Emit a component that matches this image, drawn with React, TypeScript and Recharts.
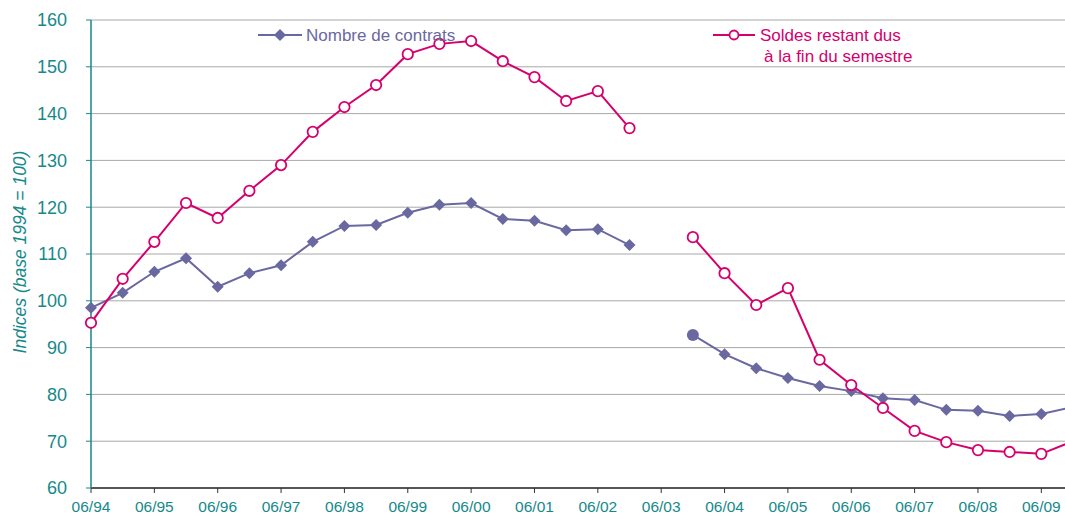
import React from 'react';
import { LineChart, Line, CartesianGrid, XAxis, YAxis, Label } from 'recharts';

const periods = [
  '06/94', '12/94', '06/95', '12/95', '06/96', '12/96', '06/97', '12/97',
  '06/98', '12/98', '06/99', '12/99', '06/00', '12/00', '06/01', '12/01',
  '06/02', '12/02', '06/03', '12/03', '06/04', '12/04', '06/05', '12/05',
  '06/06', '12/06', '06/07', '12/07', '06/08', '12/08', '06/09', '12/09',
];

const nombreContrats = [
  98.5, 101.7, 106.2, 109.1, 103.0, 105.9, 107.6, 112.6,
  116.0, 116.2, 118.8, 120.5, 120.9, 117.5, 117.1, 115.1,
  115.3, 111.9, null, 92.7, 88.6, 85.6, 83.5, 81.8,
  80.7, 79.2, 78.8, 76.7, 76.5, 75.4, 75.8, 77.3,
];

const soldesRestants = [
  95.3, 104.7, 112.6, 120.9, 117.7, 123.5, 129.0, 136.1,
  141.4, 146.1, 152.7, 154.9, 155.5, 151.2, 147.8, 142.7,
  144.8, 136.9, null, 113.6, 105.9, 99.1, 102.7, 87.4,
  82.0, 77.1, 72.2, 69.8, 68.1, 67.7, 67.3, 70.0,
];

const yTicks = [60, 70, 80, 90, 100, 110, 120, 130, 140, 150, 160];

const PURPLE = '#6a68a0';
const RED = '#d5006d';
const TEAL = '#16898a';
const FONT = '"Liberation Sans", Arial, sans-serif';

const data = periods.map((p, i) => ({
  periode: p,
  contrats: nombreContrats[i],
  soldes: soldesRestants[i],
}));

// first point after the 06/03 gap is drawn as a round dot in the original
const ContratDot = (props: any) => {
  const { cx, cy, index, value } = props;
  if (cx == null || cy == null || value == null) return null;
  if (index === 19) {
    return <circle key={`c${index}`} cx={cx} cy={cy} r={6} fill={PURPLE} />;
  }
  const s = 6;
  return (
    <polygon
      key={`c${index}`}
      points={`${cx},${cy - s} ${cx + s},${cy} ${cx},${cy + s} ${cx - s},${cy}`}
      fill={PURPLE}
    />
  );
};

const SoldeDot = (props: any) => {
  const { cx, cy, index, value } = props;
  if (cx == null || cy == null || value == null) return null;
  return (
    <circle key={`s${index}`} cx={cx} cy={cy} r={5.2} fill="#fff" stroke={RED} strokeWidth={1.8} />
  );
};

function LegendOverlay() {
  return (
    <svg
      width={1065}
      height={80}
      style={{ position: 'absolute', left: 0, top: 0, pointerEvents: 'none' }}
    >
      <line x1={258} x2={302} y1={35} y2={35} stroke={PURPLE} strokeWidth={2} />
      <polygon points="280,29 286,35 280,41 274,35" fill={PURPLE} />
      <text x={306} y={41} fill={PURPLE} fontSize={17} fontFamily={FONT}>
        Nombre de contrats
      </text>
      <line x1={713} x2={755} y1={35} y2={35} stroke={RED} strokeWidth={2} />
      <circle cx={734} cy={35} r={4.5} fill="#fff" stroke={RED} strokeWidth={1.8} />
      <text x={760} y={41} fill={RED} fontSize={17} fontFamily={FONT}>
        Soldes restant dus
      </text>
      <text x={764} y={62} fill={RED} fontSize={17} fontFamily={FONT}>
        à la fin du semestre
      </text>
    </svg>
  );
}

export default function App() {
  return (
    <div
      style={{
        position: 'fixed',
        left: 0,
        top: 0,
        width: 1065,
        height: 518,
        overflow: 'hidden',
        background: '#fff',
      }}
    >
      <LineChart
        width={1100}
        height={518}
        data={data}
        margin={{ top: 20, right: 27, bottom: 0, left: 0 }}
      >
        <CartesianGrid stroke="#a8a8a8" vertical={false} />
        <XAxis
          dataKey="periode"
          interval={1}
          height={30}
          tickSize={5}
          tickMargin={8}
          tick={{ fill: TEAL, fontSize: 15.5, fontFamily: FONT }}
          tickLine={{ stroke: '#333' }}
          axisLine={{ stroke: '#555', strokeWidth: 2 }}
        />
        <YAxis
          width={91}
          domain={[60, 160]}
          ticks={yTicks}
          interval={0}
          tickSize={5}
          tickMargin={19}
          tick={{ fill: TEAL, fontSize: 18, fontFamily: FONT }}
          tickLine={{ stroke: TEAL }}
          axisLine={{ stroke: TEAL, strokeWidth: 1.5 }}
        >
          <Label
            content={() => (
              <text
                x={20}
                y={252}
                transform="rotate(-90, 20, 252)"
                textAnchor="middle"
                dominantBaseline="central"
                fill={TEAL}
                fontSize={17.5}
                fontStyle="italic"
                fontFamily={FONT}
              >
                Indices (base 1994 = 100)
              </text>
            )}
          />
        </YAxis>
        <Line
          dataKey="contrats"
          name="Nombre de contrats"
          type="linear"
          stroke={PURPLE}
          strokeWidth={2}
          dot={ContratDot}
          activeDot={false}
          connectNulls={false}
          isAnimationActive={false}
        />
        <Line
          dataKey="soldes"
          name="Soldes restant dus à la fin du semestre"
          type="linear"
          stroke={RED}
          strokeWidth={2}
          dot={SoldeDot}
          activeDot={false}
          connectNulls={false}
          isAnimationActive={false}
        />
      </LineChart>
      <LegendOverlay />
    </div>
  );
}
